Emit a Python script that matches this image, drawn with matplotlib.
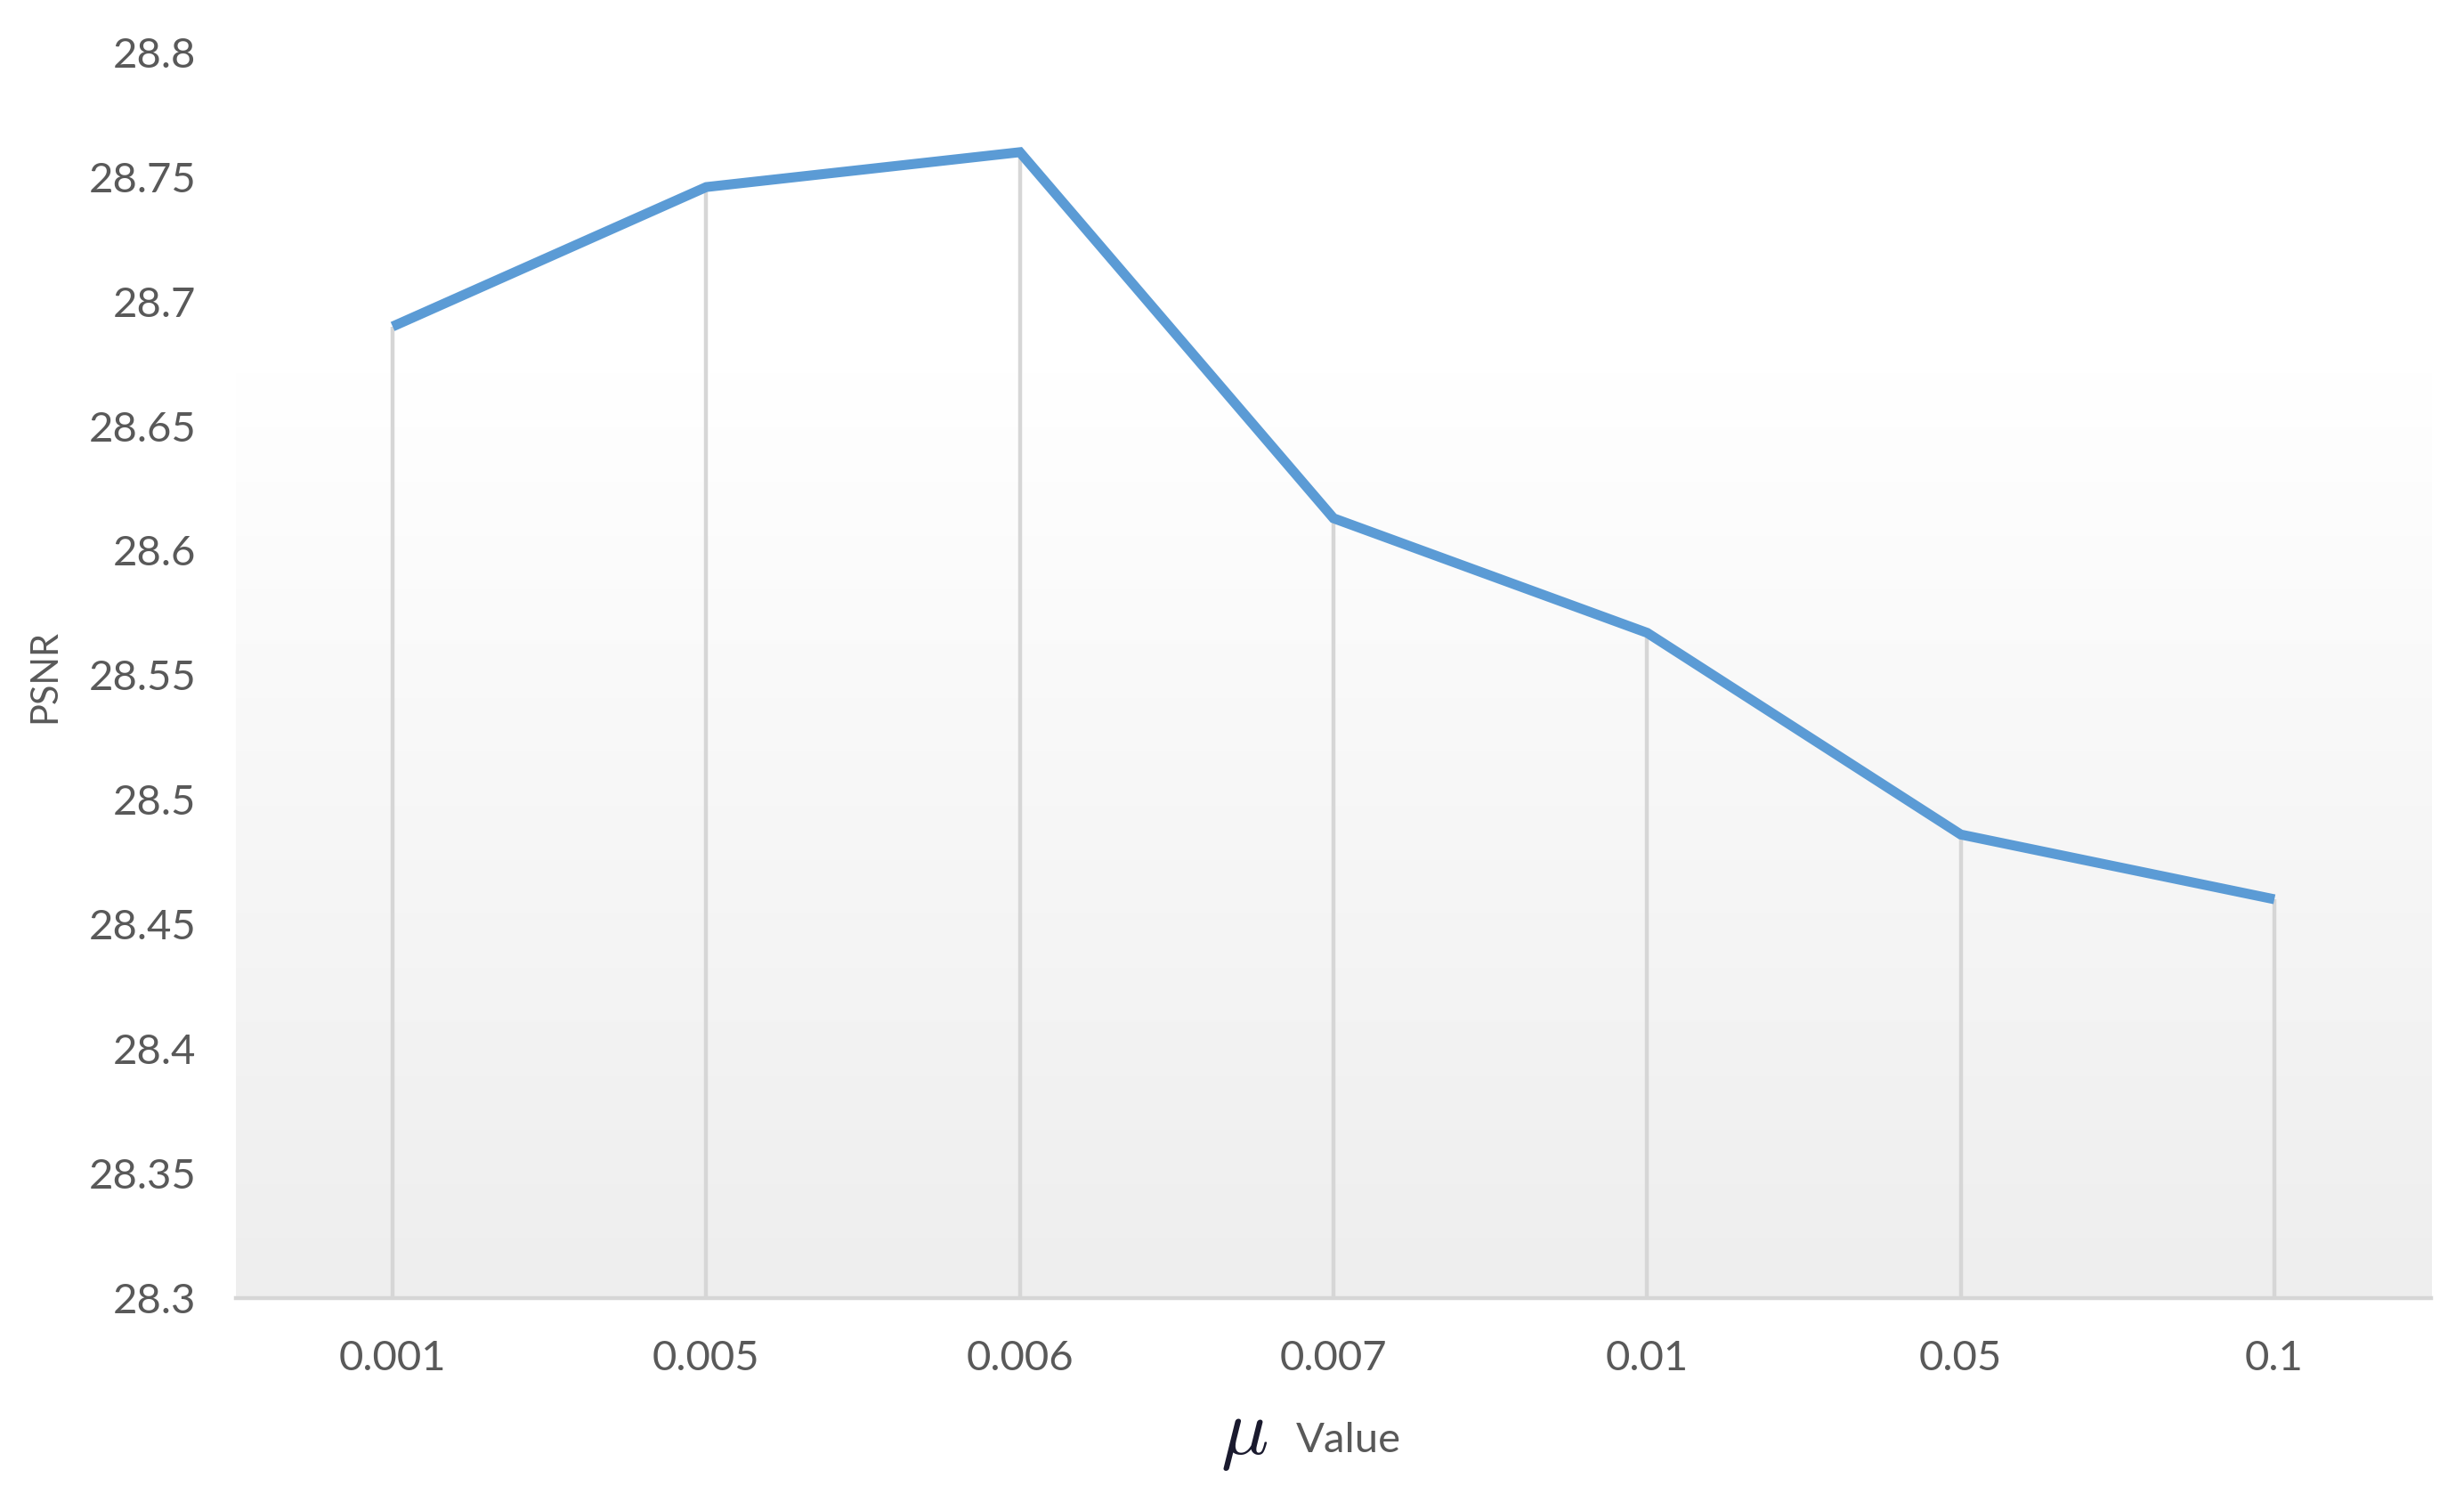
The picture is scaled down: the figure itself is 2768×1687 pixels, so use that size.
import matplotlib
matplotlib.use("Agg")
import matplotlib.pyplot as plt
import numpy as np
from matplotlib.colors import LinearSegmentedColormap

# Dados
mu_labels = ["0.001", "0.005", "0.006", "0.007", "0.01", "0.05", "0.1"]
psnr = [28.690, 28.746, 28.760, 28.613, 28.567, 28.486, 28.460]
y_ticks = [28.3, 28.35, 28.4, 28.45, 28.5, 28.55, 28.6, 28.65, 28.7, 28.75, 28.8]
y_tick_labels = ["28.3", "28.35", "28.4", "28.45", "28.5", "28.55", "28.6",
                 "28.65", "28.7", "28.75", "28.8"]

plt.rcParams["font.family"] = ["Lato", "DejaVu Sans"]
text_color = "#595959"

fig = plt.figure(figsize=(13.84, 8.435), dpi=200)
ax = fig.add_axes([0.0957, 0.136, 0.891, 0.829])

x = np.arange(len(mu_labels))
y_min, y_max = y_ticks[0], y_ticks[-1]

# Fundo em degradê (branco em cima, cinza claro embaixo)
grad = np.concatenate([np.zeros(25), np.linspace(0, 1, 75)])[:, None]
cmap = LinearSegmentedColormap.from_list("bg", ["#ffffff", "#eeeeee"])
ax.imshow(grad, aspect="auto", cmap=cmap, extent=[0, 1, 0, 1],
          transform=ax.transAxes, zorder=0, interpolation="bicubic")

# Linhas de queda
ax.vlines(x, y_min, psnr, color="#d6d6d6", linewidth=1.6, zorder=1)

# Série
ax.plot(x, psnr, color="#5b9bd5", linewidth=4.0, solid_joinstyle="miter",
        solid_capstyle="butt", zorder=3)

ax.set_xlim(-0.5, len(mu_labels) - 0.5)
ax.set_ylim(y_min, y_max)
ax.set_xticks(x)
ax.set_xticklabels(mu_labels)
ax.set_yticks(y_ticks)
ax.set_yticklabels(y_tick_labels)

for side in ["top", "right", "left"]:
    ax.spines[side].set_visible(False)
ax.spines["bottom"].set_color("#d6d6d6")
ax.spines["bottom"].set_linewidth(1.6)
ax.spines["bottom"].set_zorder(2)

ax.tick_params(axis="both", length=0, labelsize=17, colors=text_color)
ax.tick_params(axis="y", pad=16)
ax.tick_params(axis="x", pad=17)

fig.text(0.018, 0.55, "PSNR", rotation=90, ha="center", va="center",
         fontsize=15, color=text_color)
fig.text(0.505, 0.044, r"$\mu$", ha="center", va="center", fontsize=32,
         color="#1a1a2e", math_fontfamily="cm")
fig.text(0.526, 0.041, "Value", ha="left", va="center", fontsize=17,
         color=text_color)

fig.savefig("out.png", dpi=200, facecolor="white")
